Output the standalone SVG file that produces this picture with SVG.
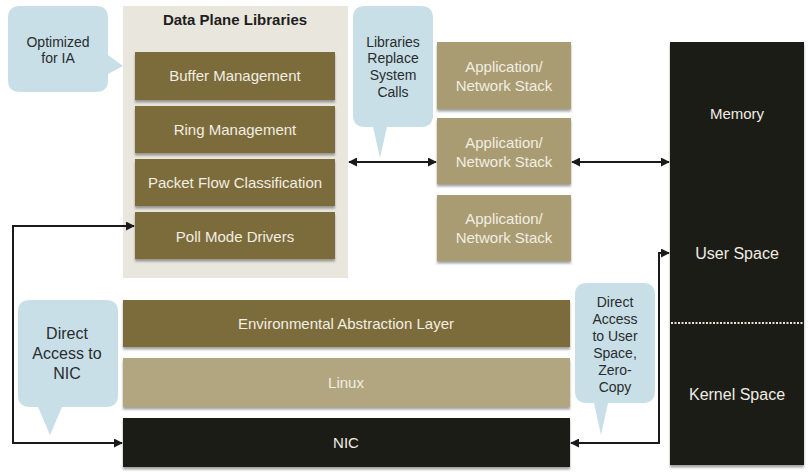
<svg xmlns="http://www.w3.org/2000/svg" width="811" height="473" viewBox="0 0 811 473">
<defs>
<style>
text{font-family:"Liberation Sans",Arial,sans-serif;text-anchor:middle}
.olive{fill:#7b6c3a}
.tan{fill:#a99c73}
.linux{fill:#b1a680}
.blk{fill:#1f1b13}
.lt{fill:#f2eee2;font-size:15px}
.bt{fill:#efece4;font-size:16px}
.ct{fill:#2a2c2e}
.callout{fill:#c8dfe7}
.conn{fill:none;stroke:#1a1a1a;stroke-width:2}
</style>
<filter id="sh" x="-5%" y="-10%" width="110%" height="130%">
<feDropShadow dx="0" dy="2.5" stdDeviation="1.2" flood-color="#555" flood-opacity="0.55"/>
</filter>
<marker id="ah" viewBox="0 0 10 10" refX="9" refY="5" markerWidth="4.5" markerHeight="4.5" orient="auto-start-reverse">
<path d="M0,0 L10,5 L0,10 z" fill="#1a1a1a"/>
</marker>
</defs>
<rect width="811" height="473" fill="#ffffff"/>

<g id="data-plane-libraries">
<rect x="123" y="6" width="225" height="272" fill="#e9e6dd"/>
<text x="235" y="25" style="font-size:15px;font-weight:bold;fill:#1e1e1e">Data Plane Libraries</text>
</g>
<g id="buffer-management">
<rect x="135" y="52" width="200" height="48" class="olive" filter="url(#sh)"/>
<text x="235" y="81" class="lt">Buffer Management</text>
</g>
<g id="ring-management">
<rect x="135" y="106" width="200" height="47" class="olive" filter="url(#sh)"/>
<text x="235" y="135" class="lt">Ring Management</text>
</g>
<g id="packet-flow-classification">
<rect x="135" y="159" width="200" height="47" class="olive" filter="url(#sh)"/>
<text x="235" y="188" class="lt">Packet Flow Classification</text>
</g>
<g id="poll-mode-drivers">
<rect x="135" y="212" width="200" height="47" class="olive" filter="url(#sh)"/>
<text x="235" y="242" class="lt">Poll Mode Drivers</text>
</g>

<g id="callout-optimized">
<path d="M20,6 H96 Q108,6 108,18 V55 L123,66 L108,74 V80 Q108,92 96,92 H20 Q8,92 8,80 V18 Q8,6 20,6 z" class="callout"/>
<text x="58" y="47" class="ct" style="font-size:14px">Optimized</text>
<text x="58" y="63" class="ct" style="font-size:14px">for IA</text>
</g>

<g id="callout-libraries">
<path d="M365,6 H421 Q433,6 433,18 V115 Q433,127 421,127 H387 L380,158 L373,127 H365 Q353,127 353,115 V18 Q353,6 365,6 z" class="callout"/>
<text x="393" y="47" class="ct" style="font-size:14px">Libraries</text>
<text x="393" y="63" class="ct" style="font-size:14px">Replace</text>
<text x="393" y="80" class="ct" style="font-size:14px">System</text>
<text x="393" y="97" class="ct" style="font-size:14px">Calls</text>
</g>

<g id="app-stack-1">
<rect x="437" y="42" width="134" height="67" class="tan" filter="url(#sh)"/>
<text x="504" y="72" class="lt">Application/</text>
<text x="504" y="91" class="lt">Network Stack</text>
</g>
<g id="app-stack-2">
<rect x="437" y="118" width="134" height="66" class="tan" filter="url(#sh)"/>
<text x="504" y="148" class="lt">Application/</text>
<text x="504" y="167" class="lt">Network Stack</text>
</g>
<g id="app-stack-3">
<rect x="437" y="195" width="134" height="66" class="tan" filter="url(#sh)"/>
<text x="504" y="224" class="lt">Application/</text>
<text x="504" y="243" class="lt">Network Stack</text>
</g>

<g id="memory">
<rect x="670" y="42" width="134" height="423" class="blk" filter="url(#sh)"/>
<line x1="671" y1="323" x2="804" y2="323" stroke="#e8e4d8" stroke-width="2" stroke-dasharray="2 1.5"/>
<text x="737" y="119" class="bt" style="font-size:15px">Memory</text>
<text x="737" y="259" class="bt">User Space</text>
<text x="737" y="400" class="bt">Kernel Space</text>
</g>

<g id="eal">
<rect x="123" y="300" width="447" height="47" class="olive" filter="url(#sh)"/>
<text x="346" y="329" class="lt">Environmental Abstraction Layer</text>
</g>
<g id="linux">
<rect x="123" y="358" width="447" height="49" class="linux" filter="url(#sh)"/>
<text x="346" y="388" class="lt">Linux</text>
</g>
<g id="nic">
<rect x="123" y="418" width="447" height="49" class="blk" filter="url(#sh)"/>
<text x="346" y="448" class="lt">NIC</text>
</g>

<g id="callout-direct-nic">
<path d="M30,300 H106 Q118,300 118,312 V395 Q118,407 106,407 H62 L50,435 L38,407 H30 Q18,407 18,395 V312 Q18,300 30,300 z" class="callout"/>
<text x="67" y="339" class="ct" style="font-size:16px">Direct</text>
<text x="67" y="359" class="ct" style="font-size:16px">Access to</text>
<text x="67" y="379" class="ct" style="font-size:16px">NIC</text>
</g>

<g id="callout-direct-user">
<path d="M587,283 H643 Q655,283 655,295 V391 Q655,403 643,403 H608 L601,435 L594,403 H587 Q575,403 575,391 V295 Q575,283 587,283 z" class="callout"/>
<text x="615" y="307" class="ct" style="font-size:14px">Direct</text>
<text x="615" y="324" class="ct" style="font-size:14px">Access</text>
<text x="615" y="341" class="ct" style="font-size:14px">to User</text>
<text x="615" y="358" class="ct" style="font-size:14px">Space,</text>
<text x="615" y="375" class="ct" style="font-size:14px">Zero-</text>
<text x="615" y="392" class="ct" style="font-size:14px">Copy</text>
</g>

<g id="connectors">
<line x1="349" y1="162" x2="436" y2="162" class="conn" marker-start="url(#ah)" marker-end="url(#ah)"/>
<line x1="572" y1="162" x2="669" y2="162" class="conn" marker-start="url(#ah)" marker-end="url(#ah)"/>
<path d="M134,226 H13 V443 H122" class="conn" marker-start="url(#ah)" marker-end="url(#ah)"/>
<path d="M571,443 H659 V253 H669" class="conn" marker-start="url(#ah)" marker-end="url(#ah)"/>
</g>
</svg>
